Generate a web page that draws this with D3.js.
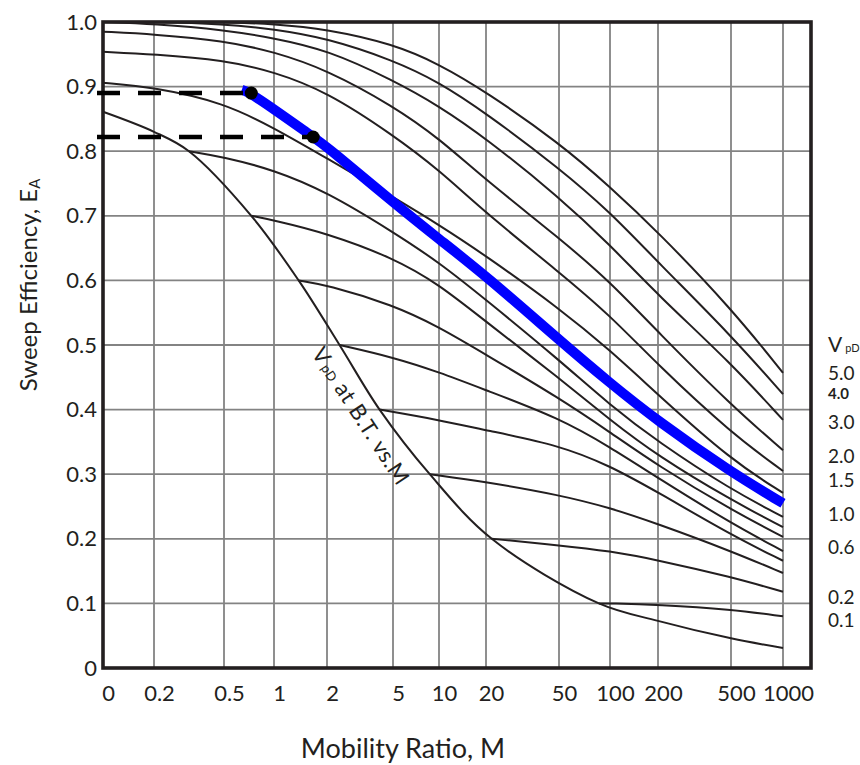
<!DOCTYPE html>
<html>
<head>
<meta charset="utf-8">
<script src="https://cdn.jsdelivr.net/npm/d3@7"></script>
<style>
  body { margin: 0; background: #fff; }
  svg text { font-family: Lato, "Open Sans", sans-serif; fill: #231f20; }
</style>
</head>
<body>
<div id="chart"></div>
<script>
// mobility ratio axis (log), the left edge is labelled "0"
const mTicks = [0.1, 0.2, 0.5, 1, 2, 5, 10, 20, 50, 100, 200, 500, 1000];
const mTickLabels = ["0", "0.2", "0.5", "1", "2", "5", "10", "20", "50", "100", "200", "500", "1000"];
const eTicks = [0, 0.1, 0.2, 0.3, 0.4, 0.5, 0.6, 0.7, 0.8, 0.9, 1.0];
const eTickLabels = ["0", "0.1", "0.2", "0.3", "0.4", "0.5", "0.6", "0.7", "0.8", "0.9", "1.0"];

// curves read at every mTicks value
const eVpd50 = [1.0, 1.0, 1.0, 0.997, 0.989, 0.966, 0.935, 0.892, 0.813, 0.745, 0.675, 0.557, 0.457];
const eVpd40 = [1.0, 1.0, 0.997, 0.989, 0.975, 0.941, 0.907, 0.859, 0.774, 0.706, 0.628, 0.515, 0.424];
const eVpd30 = [1.0, 0.997, 0.988, 0.975, 0.957, 0.910, 0.870, 0.820, 0.729, 0.655, 0.577, 0.472, 0.384];
const eVpd20 = [0.985, 0.981, 0.971, 0.954, 0.926, 0.870, 0.820, 0.755, 0.666, 0.598, 0.520, 0.407, 0.337];
const eVpd15 = [0.954, 0.950, 0.941, 0.923, 0.892, 0.825, 0.771, 0.704, 0.613, 0.546, 0.469, 0.364, 0.305];
const eVpd10 = [0.906, 0.899, 0.875, 0.836, 0.789, 0.729, 0.686, 0.638, 0.557, 0.492, 0.423, 0.322, 0.271];

// breakthrough curve and the curves that branch off it  [M, EA]
const breakthrough = [[0.1, 0.861], [0.2, 0.83], [0.316, 0.8], [0.73, 0.7], [1.38, 0.6], [2.38, 0.5],
  [4.15, 0.4], [8.7, 0.3], [21.5, 0.2], [86, 0.1], [200, 0.073], [500, 0.046], [1000, 0.031]];
const branch08 = [[0.316, 0.8], [0.5, 0.791], [1, 0.771], [2, 0.737], [5, 0.675], [10, 0.628], [20, 0.570],
  [50, 0.477], [100, 0.407], [200, 0.35], [500, 0.276], [1000, 0.234]];
const branch07 = [[0.73, 0.7], [1, 0.693], [2, 0.673], [5, 0.635], [10, 0.594], [20, 0.536], [50, 0.449],
  [100, 0.384], [200, 0.328], [500, 0.26], [1000, 0.218]];
const branch06 = [[1.38, 0.6], [2, 0.593], [5, 0.562], [10, 0.528], [20, 0.485], [50, 0.418], [100, 0.365],
  [200, 0.313], [500, 0.245], [1000, 0.203]];
const branch05 = [[2.38, 0.5], [5, 0.481], [10, 0.458], [20, 0.43], [50, 0.387], [100, 0.342], [200, 0.294],
  [500, 0.224], [1000, 0.181]];
const branch04 = [[4.15, 0.4], [10, 0.384], [20, 0.368], [50, 0.345], [100, 0.313], [200, 0.272], [500, 0.206],
  [1000, 0.166]];
const branch03 = [[8.7, 0.3], [20, 0.288], [50, 0.268], [100, 0.248], [200, 0.223], [500, 0.181], [1000, 0.147]];
const branch02 = [[21.5, 0.2], [50, 0.19], [100, 0.181], [200, 0.167], [500, 0.141], [1000, 0.118]];
const branch01 = [[86, 0.1], [100, 0.1], [200, 0.098], [500, 0.091], [1000, 0.08]];

// highlighted (blue) curve and the two read-off points
const highlight = [[0.64, 0.895], [0.73, 0.89], [1.67, 0.822], [2, 0.807], [5, 0.721], [10, 0.664], [20, 0.607],
  [50, 0.508], [100, 0.441], [200, 0.382], [500, 0.303], [1000, 0.255]];
const readPoints = [[0.73, 0.89], [1.67, 0.822]];

// VpD labels on the right side
const vpdLabels = ["5.0", "4.0", "3.0", "2.0", "1.5", "1.0", "0.6", "0.2", "0.1"];
const vpdLabelE = [0.456, 0.424, 0.381, 0.327, 0.291, 0.238, 0.187, 0.110, 0.074];

const W = 860, H = 765;
const ink = "#231f20";

const svg = d3.select("#chart").append("svg")
  .attr("width", W).attr("height", H);

// the printed grid is not a perfect log spacing, so the log scale is piecewise
const x = d3.scaleLog()
  .domain(mTicks.concat([1460]))
  .range([103, 154, 224, 274, 327, 393, 439, 486, 559, 610, 658, 731, 783, 811]);
const y = d3.scaleLinear().domain([0, 1]).range([668, 22]);
const left = x.range()[0], right = x.range()[x.range().length - 1];

// grid
svg.append("g")
  .selectAll("line")
  .data(mTicks.slice(1))
  .join("line")
  .attr("x1", d => x(d)).attr("x2", d => x(d))
  .attr("y1", y(0)).attr("y2", y(1))
  .attr("stroke", "#838383").attr("stroke-width", 1.8);
svg.append("g")
  .selectAll("line")
  .data(eTicks.slice(1, -1))
  .join("line")
  .attr("x1", left).attr("x2", right)
  .attr("y1", d => y(d)).attr("y2", d => y(d))
  .attr("stroke", "#838383").attr("stroke-width", 1.8);

// curves: smooth b-spline for the family, the breakthrough curve has to pass through the branch points
const smooth = d3.line()
  .x(d => x(d[0]))
  .y(d => y(d[1]))
  .curve(d3.curveBasis);
const through = d3.line()
  .x(d => x(d[0]))
  .y(d => y(d[1]))
  .curve(d3.curveCatmullRom.alpha(0.5));

const fullCurves = [eVpd50, eVpd40, eVpd30, eVpd20, eVpd15, eVpd10]
  .map(es => mTicks.map((m, i) => [m, es[i]]));
const family = fullCurves.concat([branch08, branch07, branch06, branch05,
  branch04, branch03, branch02, branch01]);

const curves = svg.append("g")
  .attr("fill", "none")
  .attr("stroke", ink)
  .attr("stroke-width", 2);
curves.selectAll("path.family")
  .data(family)
  .join("path")
  .attr("class", "family")
  .attr("d", smooth);
curves.append("path")
  .attr("d", through(breakthrough));

svg.append("path")
  .attr("d", smooth(highlight))
  .attr("fill", "none")
  .attr("stroke", "#0000ff")
  .attr("stroke-width", 10)
  .attr("stroke-linecap", "butt");

// frame
svg.append("rect")
  .attr("x", left).attr("y", y(1))
  .attr("width", right - left)
  .attr("height", y(0) - y(1))
  .attr("fill", "none")
  .attr("stroke", ink)
  .attr("stroke-width", 3.6);

// dashed read-off lines and points
svg.append("g")
  .selectAll("line")
  .data(readPoints)
  .join("line")
  .attr("x1", left - 6).attr("x2", d => x(d[0]))
  .attr("y1", d => y(d[1])).attr("y2", d => y(d[1]))
  .attr("stroke", "#000").attr("stroke-width", 4.5)
  .attr("stroke-dasharray", "23,18");
svg.append("g")
  .selectAll("circle")
  .data(readPoints)
  .join("circle")
  .attr("cx", d => x(d[0])).attr("cy", d => y(d[1]))
  .attr("r", 6.5)
  .attr("fill", "#000");

// axes
const yAxis = svg.append("g")
  .attr("transform", `translate(${left},0)`)
  .call(d3.axisLeft(y).tickValues(eTicks).tickFormat((d, i) => eTickLabels[i]).tickSize(0).tickPadding(6));
yAxis.select(".domain").remove();
yAxis.selectAll("text").attr("font-size", 22).attr("font-family", "Lato, sans-serif").attr("fill", ink);

const xAxis = svg.append("g")
  .attr("transform", `translate(0,${y(0)})`)
  .call(d3.axisBottom(x).tickValues(mTicks).tickFormat((d, i) => mTickLabels[i]).tickSize(0).tickPadding(17));
xAxis.select(".domain").remove();
xAxis.selectAll("text").attr("x", 5).attr("font-size", 22).attr("font-family", "Lato, sans-serif").attr("fill", ink);

// axis titles
svg.append("text")
  .attr("x", 403).attr("y", 758)
  .attr("text-anchor", "middle")
  .attr("font-size", 27)
  .text("Mobility Ratio, M");

const yTitle = svg.append("text")
  .attr("transform", "translate(37,285) rotate(-90)")
  .attr("text-anchor", "middle")
  .attr("font-size", 24);
yTitle.append("tspan").text("Sweep Efficiency, E");
yTitle.append("tspan").attr("font-size", 15).attr("dy", 3).text("A");

// right side VpD legend
const legendX = right + 17;
const head = svg.append("text")
  .attr("x", legendX).attr("y", y(0.5))
  .attr("dy", "0.35em")
  .attr("font-size", 21);
head.append("tspan").text("V");
head.append("tspan").attr("font-size", 11).attr("dx", 3).text("pD");

svg.append("g")
  .selectAll("text")
  .data(vpdLabels)
  .join("text")
  .attr("x", legendX)
  .attr("y", (d, i) => y(vpdLabelE[i]))
  .attr("dy", "0.35em")
  .attr("font-size", d => d === "4.0" ? 15 : 19)
  .attr("font-weight", d => d === "4.0" ? "bold" : "normal")
  .text(d => d);

// label along the breakthrough curve
const bt = svg.append("text")
  .attr("transform", `translate(${x(1.62)},${y(0.487)}) rotate(57)`)
  .attr("font-size", 22)
  .attr("letter-spacing", 0.6);
bt.append("tspan").text("V");
bt.append("tspan").attr("font-size", 13).attr("dx", 2).text("pD");
bt.append("tspan").text(" at B.T. vs.M");
</script>
</body>
</html>
